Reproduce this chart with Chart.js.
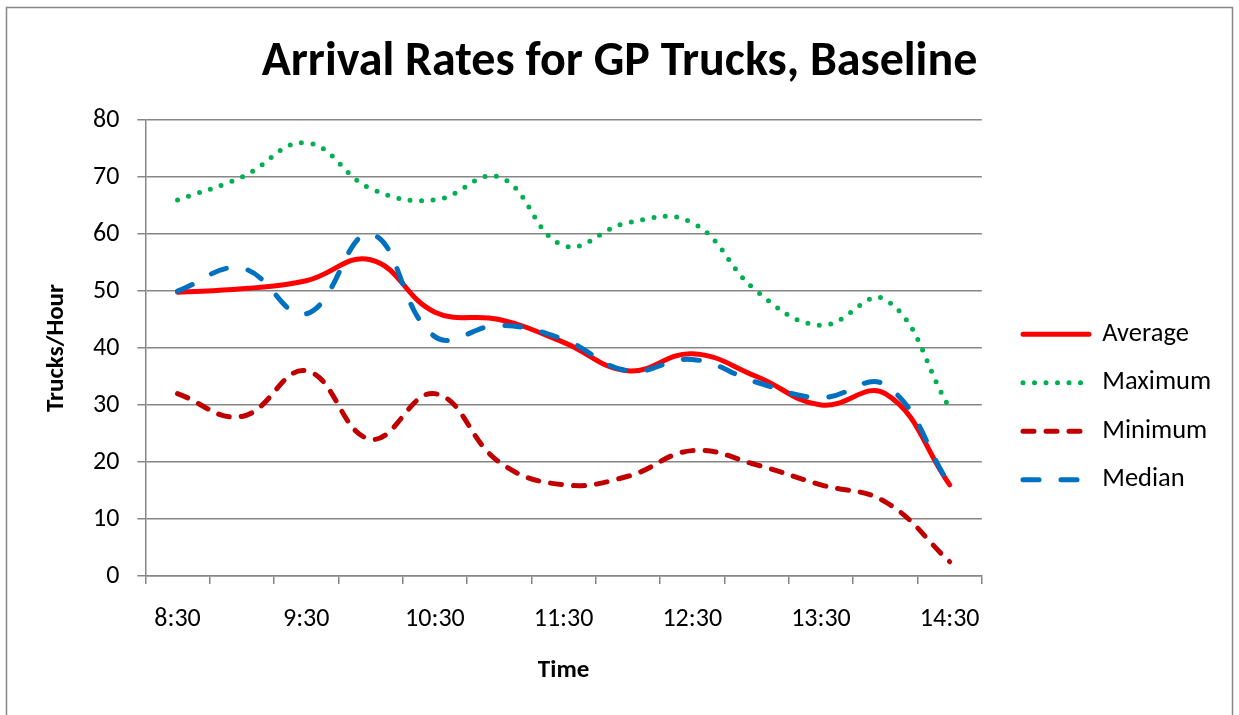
<!DOCTYPE html>
<html>
<head>
<meta charset="utf-8">
<script src="https://cdn.jsdelivr.net/npm/chart.js@4.4.1/dist/chart.umd.min.js"></script>
<style>
  html, body { margin: 0; padding: 0; background: #ffffff; }
  #wrap { width: 1239px; height: 715px; position: relative; }
</style>
</head>
<body>
<div id="wrap"><canvas id="c" width="1239" height="715"></canvas></div>
<script>
// ---- data ----
const categories = ['8:30','9:00','9:30','10:00','10:30','11:00','11:30','12:00','12:30','13:00','13:30','14:00','14:30'];
const tickLabels = ['8:30','9:30','10:30','11:30','12:30','13:30','14:30'];
const average = [49.8, 50.4, 51.8, 55.5, 46.3, 45, 41, 36, 39, 35, 30, 32, 16];
const maximum = [66, 70, 76, 68, 66, 70, 58, 62, 62, 50, 44, 48.5, 29.5];
const minimum = [32, 28, 36, 24, 32, 20, 16, 17.5, 22, 19.5, 16, 13, 2.5];
const median  = [50, 54, 46, 60, 42, 44, 41.5, 36, 38, 34, 31.3, 33.5, 16];
const yTicks = [0, 10, 20, 30, 40, 50, 60, 70, 80];

const FONT = 'Carlito, Calibri, Lato, sans-serif';
const GRID = '#868686';

const borderPlugin = {
  id: 'outerBorder',
  beforeDraw(chart) {
    const ctx = chart.ctx;
    ctx.save();
    ctx.fillStyle = '#ffffff';
    ctx.fillRect(0, 0, chart.width, chart.height);
    ctx.strokeStyle = GRID;
    ctx.lineWidth = 1.5;
    ctx.strokeRect(6.5, 7.5, chart.width - 13, chart.height + 20);
    ctx.restore();
  }
};

const legendPlace = {
  id: 'legendPlace',
  afterLayout(chart) {
    const lg = chart.legend;
    const w = lg.width, h = lg.height;
    lg.left = 1001; lg.right = lg.left + w;
    lg.top = 299; lg.bottom = lg.top + h;
  }
};

const common = { pointRadius: 0, pointHoverRadius: 0, fill: false, tension: 0.42,
  borderWidth: 5, borderCapStyle: 'round', borderJoinStyle: 'round' };

new Chart(document.getElementById('c'), {
  type: 'line',
  data: {
    labels: categories,
    datasets: [
      Object.assign({}, common, { label: 'Average', data: average, borderColor: '#FF0000', backgroundColor: '#FF0000', order: 1 }),
      Object.assign({}, common, { label: 'Maximum', data: maximum, borderColor: '#00B050', backgroundColor: '#00B050', borderDash: [0, 11.5], order: 3 }),
      Object.assign({}, common, { label: 'Minimum', data: minimum, borderColor: '#C00000', backgroundColor: '#C00000', borderDash: [11, 12], order: 2 }),
      Object.assign({}, common, { label: 'Median', data: median, borderColor: '#0070C0', backgroundColor: '#0070C0', borderDash: [16, 22], order: 0 })
    ]
  },
  options: {
    responsive: false,
    animation: false,
    devicePixelRatio: 1,
    layout: { padding: { left: 37, right: 37, top: 8, bottom: 25 } },
    plugins: {
      tooltip: { enabled: false },
      title: {
        display: true,
        text: 'Arrival Rates for GP Trucks, Baseline',
        color: '#000000',
        font: { family: FONT, size: 48, weight: 'bold' },
        padding: { top: 26, bottom: 28.5 }
      },
      legend: {
        position: 'right',
        align: 'start',
        labels: {
          usePointStyle: true,
          pointStyle: 'line',
          pointStyleWidth: 66,
          boxHeight: 26.5,
          padding: 22,
          color: '#000000',
          font: { family: FONT, size: 26.5 },
          sort: (a, b) => a.datasetIndex - b.datasetIndex,
          generateLabels(chart) {
            const items = Chart.defaults.plugins.legend.labels.generateLabels(chart);
            items.forEach(it => {
              const ds = chart.data.datasets[it.datasetIndex];
              it.lineDash = ds.borderDash || [];
              it.lineCap = 'round';
              it.lineJoin = 'round';
              it.lineWidth = ds.borderWidth;
              it.strokeStyle = ds.borderColor;
              it.fillStyle = ds.borderColor;
              it.pointStyle = 'line';
            });
            return items;
          }
        }
      }
    },
    scales: {
      x: {
        type: 'category',
        offset: true,
        grid: { display: true, offset: true, drawOnChartArea: false, drawTicks: true, tickLength: 8, color: GRID, lineWidth: 1.5 },
        border: { display: true, color: GRID, width: 1.5 },
        ticks: {
          autoSkip: false, maxRotation: 0, minRotation: 0, padding: 19.4,
          color: '#000000', font: { family: FONT, size: 26 },
          callback: (v, i) => (i % 2 === 0 ? tickLabels[i / 2] : '')
        },
        title: { display: true, text: 'Time', color: '#000000', font: { family: FONT, size: 25, weight: 'bold' }, padding: { top: 2, bottom: 4 } }
      },
      y: {
        min: yTicks[0], max: yTicks[yTicks.length - 1],
        grid: { color: GRID, lineWidth: 1.5, tickLength: 8 },
        border: { display: true, color: GRID, width: 1.5 },
        ticks: { stepSize: 10, padding: 18, color: '#000000', font: { family: FONT, size: 26 } },
        title: { display: true, text: 'Trucks/Hour', color: '#000000', font: { family: FONT, size: 25, weight: 'bold' }, padding: { top: 5, bottom: 3 } }
      }
    }
  },
  plugins: [borderPlugin, legendPlace]
});
</script>
</body>
</html>
